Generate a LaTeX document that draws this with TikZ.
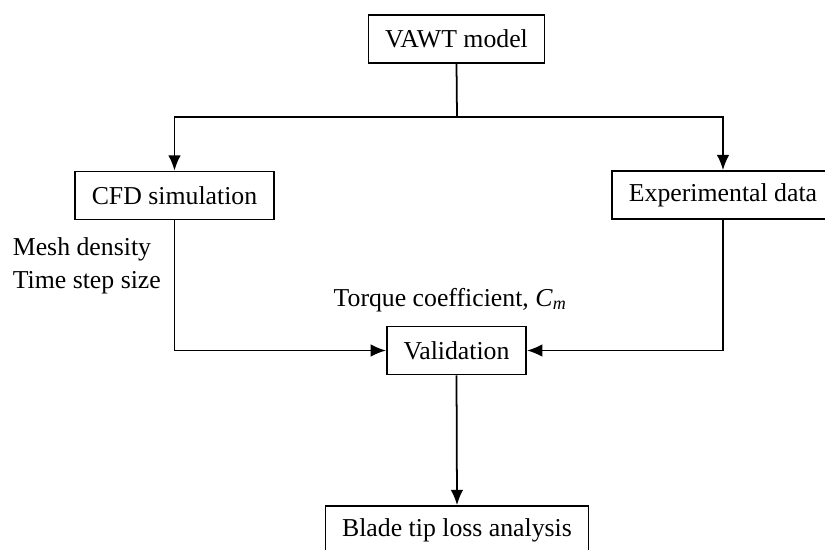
\documentclass[tikz,border=0pt]{standalone}
\usepackage{fontspec}
\setmainfont{Liberation Serif}
\usetikzlibrary{arrows.meta}

\begin{document}
\begin{tikzpicture}[>={Latex[length=4.6mm,width=3.8mm]},line width=1.5pt,x=0.03cm,y=-0.03cm]
\tikzset{blk/.style={draw,minimum height=1.44cm,inner xsep=0.5cm,font=\fontsize{22}{26}\selectfont},
lbl/.style={font=\fontsize{22}{28}\selectfont,inner sep=0pt}}
\useasboundingbox (0,0) rectangle (825,549);
\clip (0,0) rectangle (825,549);
\node[blk] (vawt) at (456.5,39) {VAWT model};
\node[blk] (cfd) at (174.5,195.5) {CFD simulation};
\node[blk] (exp) at (723,195) {Experimental data};
\node[blk] (valid) at (456.5,350.5) {Validation};
\node[blk] (blade) at (457,530) {Blade tip loss analysis};
\coordinate (split) at (457,117);
\draw (vawt.south) -- (split);
\draw[->] (split) -| (cfd.north);
\draw[->] (split) -| (exp.north);
\draw[->] (cfd.south) |- (valid.west);
\draw[->] (exp.south) |- (valid.east);
\draw[->] (valid.south) -- (blade.north);
\node[lbl,anchor=north west,align=left] (params) at (12,237) {Mesh density\\Time step size};
\node[lbl,anchor=base] (torque) at (450,306) {Torque coefficient, \textit{C}\textsubscript{\textit{m}}};
\end{tikzpicture}
\end{document}
